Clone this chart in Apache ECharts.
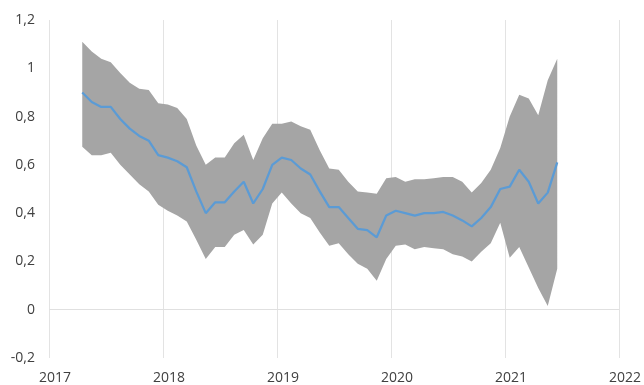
<!DOCTYPE html>
<html>
<head>
<meta charset="utf-8">
<script src="https://cdn.jsdelivr.net/npm/echarts@6/dist/echarts.min.js"></script>
<style>
  html, body { margin: 0; padding: 0; background: #fff; }
  #main { width: 644px; height: 385px; }
</style>
</head>
<body>
<div id="main"></div>
<script>
// monthly points, Apr 2017 .. Jun 2021 (mid-month)
var startYear = 2017, startMonth = 4, pointCount = 51;

var meanValues = [
    0.90, 0.86, 0.84, 0.84, 0.79, 0.75, 0.72, 0.70, 0.64, 0.63,
    0.615, 0.59, 0.49, 0.40, 0.445, 0.445, 0.49, 0.53, 0.44, 0.50,
    0.60, 0.63, 0.62, 0.585, 0.56, 0.49, 0.425, 0.425, 0.38, 0.335,
    0.33, 0.30, 0.39, 0.41, 0.40, 0.39, 0.40, 0.40, 0.405, 0.39,
    0.37, 0.345, 0.38, 0.425, 0.50, 0.51, 0.58, 0.53, 0.44, 0.485,
    0.61
];
var upperValues = [
    1.11, 1.07, 1.04, 1.025, 0.98, 0.94, 0.915, 0.91, 0.855, 0.85,
    0.835, 0.79, 0.68, 0.60, 0.63, 0.63, 0.69, 0.725, 0.62, 0.71,
    0.77, 0.77, 0.78, 0.76, 0.745, 0.66, 0.585, 0.58, 0.53, 0.49,
    0.485, 0.48, 0.545, 0.55, 0.53, 0.54, 0.54, 0.545, 0.55, 0.55,
    0.53, 0.485, 0.525, 0.58, 0.67, 0.80, 0.89, 0.875, 0.805, 0.95,
    1.04
];
var lowerValues = [
    0.675, 0.64, 0.64, 0.65, 0.60, 0.56, 0.52, 0.49, 0.435, 0.41,
    0.39, 0.365, 0.29, 0.21, 0.26, 0.26, 0.31, 0.33, 0.27, 0.31,
    0.44, 0.485, 0.44, 0.40, 0.38, 0.32, 0.265, 0.275, 0.23, 0.19,
    0.17, 0.12, 0.21, 0.265, 0.27, 0.25, 0.26, 0.255, 0.25, 0.23,
    0.22, 0.20, 0.24, 0.275, 0.36, 0.215, 0.26, 0.175, 0.09, 0.015,
    0.17
];
var yearTicks = [2017, 2018, 2019, 2020, 2021, 2022];

var xPos = [];
for (var i = 0; i < pointCount; i++) {
    var m = startMonth - 1 + i;
    xPos.push(startYear + Math.floor(m / 12) + ((m % 12) + 0.5) / 12);
}

var meanData = meanValues.map(function (v, i) { return [xPos[i], v]; });
var bandData = xPos.map(function (x, i) { return [x, lowerValues[i], upperValues[i]]; });

// band polygon: upper edge forward, lower edge back
function renderBand(params, api) {
    if (params.dataIndex !== 0) return;
    var pts = [];
    for (var k = 0; k < bandData.length; k++) pts.push(api.coord([bandData[k][0], bandData[k][2]]));
    for (var k = bandData.length - 1; k >= 0; k--) pts.push(api.coord([bandData[k][0], bandData[k][1]]));
    return {
        type: 'polygon',
        shape: {points: pts},
        style: {fill: '#a5a5a5', stroke: null}
    };
}

var myChart = echarts.init(document.getElementById('main'));
var labelFont = {color: '#404040', fontSize: 14, fontFamily: 'Open Sans'};
var option = {
    animation: false,
    grid: {left: 49, right: 22, top: 20, bottom: 27},
    xAxis: {
        type: 'value',
        min: yearTicks[0],
        max: yearTicks[yearTicks.length - 1],
        interval: 1,
        axisLine: {show: false},
        axisTick: {show: false},
        axisLabel: Object.assign({
            margin: 13,
            padding: [0, 0, 0, 12],
            formatter: function (v) { return String(v); }
        }, labelFont),
        splitLine: {show: true, lineStyle: {color: '#e3e3e3', width: 1}}
    },
    yAxis: {
        type: 'value',
        min: -0.2,
        max: 1.2,
        interval: 0.2,
        axisLine: {show: false},
        axisTick: {show: false},
        axisLabel: Object.assign({
            margin: 14,
            formatter: function (v) { return String(Math.round(v * 10) / 10).replace('.', ','); }
        }, labelFont),
        splitLine: {show: false}
    },
    series: [
        {
            name: 'band',
            type: 'custom',
            renderItem: renderBand,
            data: bandData,
            encode: {x: 0, y: [1, 2]},
            silent: true,
            markLine: {
                silent: true,
                symbol: 'none',
                label: {show: false},
                lineStyle: {color: '#e0e0e0', type: 'solid', width: 1},
                data: [{yAxis: 0}]
            }
        },
        {
            name: 'mean',
            type: 'line',
            data: meanData,
            symbol: 'none',
            lineStyle: {color: '#5b9bd5', width: 2.25}
        }
    ]
};
myChart.setOption(option);
</script>
</body>
</html>
